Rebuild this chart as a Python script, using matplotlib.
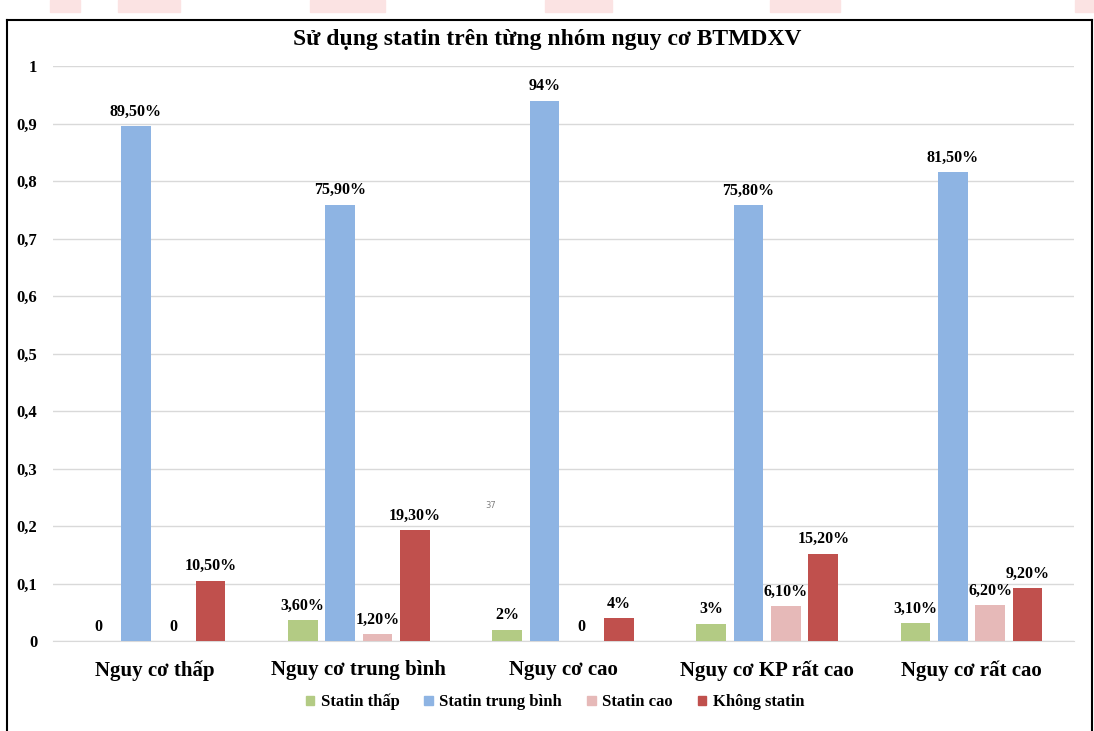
import matplotlib
matplotlib.use("Agg")
import matplotlib.pyplot as plt
import numpy as np
from matplotlib.patches import Rectangle, Patch
from matplotlib.lines import Line2D

categories = ["Nguy cơ thấp", "Nguy cơ trung bình", "Nguy cơ cao", "Nguy cơ KP rất cao", "Nguy cơ rất cao"]
series_names = ["Statin thấp", "Statin trung bình", "Statin cao", "Không statin"]
statin_thap = [0, 0.036, 0.02, 0.03, 0.031]
statin_tb = [0.895, 0.759, 0.94, 0.758, 0.815]
statin_cao = [0, 0.012, 0, 0.061, 0.062]
khong_statin = [0.105, 0.193, 0.04, 0.152, 0.092]
labels_thap = ["0", "3,60%", "2%", "3%", "3,10%"]
labels_tb = ["89,50%", "75,90%", "94%", "75,80%", "81,50%"]
labels_cao = ["0", "1,20%", "0", "6,10%", "6,20%"]
labels_khong = ["10,50%", "19,30%", "4%", "15,20%", "9,20%"]
yticks = [0, 0.1, 0.2, 0.3, 0.4, 0.5, 0.6, 0.7, 0.8, 0.9, 1]
ytick_labels = ["0", "0,1", "0,2", "0,3", "0,4", "0,5", "0,6", "0,7", "0,8", "0,9", "1"]

colors = ["#B3CB84", "#8EB4E3", "#E6B9B8", "#C0504D"]
FONT = "Liberation Serif"

plt.rcParams["font.family"] = [FONT, "DejaVu Serif"]
plt.rcParams["font.weight"] = "bold"

fig = plt.figure(figsize=(10.94, 7.31), dpi=100)
W, H = 1094, 731

# screenshot artifacts (pink marks at top) and frame
for x0, x1 in [(50, 80), (118, 180), (310, 385), (545, 612), (770, 840), (1075, 1094)]:
    fig.patches.append(Rectangle((x0 / W, 1 - 12 / H), (x1 - x0) / W, 12 / H,
                                 transform=fig.transFigure, color="#FBE3E3", zorder=0))
fig.add_artist(Line2D([7 / W, 7 / W], [0, 1 - 20 / H], color="black", lw=1.5, transform=fig.transFigure))
fig.add_artist(Line2D([7 / W, 1092 / W], [1 - 20 / H, 1 - 20 / H], color="black", lw=1.5, transform=fig.transFigure))
fig.add_artist(Line2D([1092 / W, 1092 / W], [0, 1 - 20 / H], color="black", lw=1.5, transform=fig.transFigure))

ax = fig.add_axes([52.5 / W, 90 / H, 1021 / W, 575 / H])
x = np.arange(len(categories))
step = 0.183
width = 0.145
all_vals = [statin_thap, statin_tb, statin_cao, khong_statin]
all_labels = [labels_thap, labels_tb, labels_cao, labels_khong]
for k, (vals, labs) in enumerate(zip(all_vals, all_labels)):
    pos = x + (k - 1.5) * step
    ax.bar(pos, vals, width=width, color=colors[k], zorder=3, label=series_names[k])
    for p, v, t in zip(pos, vals, labs):
        ax.text(p, v + 0.011, t, ha="center", va="bottom", fontsize=11.5,
                fontweight="bold", family=FONT, zorder=4)

ax.set_xlim(-0.5, 4.5)
ax.set_ylim(0, 1)
ax.set_yticks(yticks)
ax.set_yticklabels(ytick_labels, fontsize=12, fontweight="bold", family=FONT)
ax.set_xticks(x)
ax.set_xticklabels(categories, fontsize=15, fontweight="bold", family=FONT)
ax.tick_params(axis="both", length=0)
ax.tick_params(axis="y", pad=11)
ax.tick_params(axis="x", pad=14)
ax.grid(axis="y", color="#D9D9D9", lw=1, zorder=0)
for s in ["top", "right", "left"]:
    ax.spines[s].set_visible(False)
ax.spines["bottom"].set_color("#D9D9D9")

fig.text(0.5, 1 - 40 / H, "Sử dụng statin trên từng nhóm nguy cơ BTMDXV", ha="center", va="center",
         fontsize=17, fontweight="bold", family=FONT)

fig.text(491 / W, 1 - 505 / H, "37", fontsize=6, color="#808080", ha="center", va="center",
         family="DejaVu Sans", fontweight="normal")

handles = [Patch(color=c) for c in colors]
fig.legend(handles, series_names, loc="center", bbox_to_anchor=(555 / W, 1 - 702 / H), ncol=4,
           frameon=False, prop={"family": FONT, "weight": "bold", "size": 12},
           handlelength=0.5, handleheight=0.5, handletextpad=0.4, columnspacing=1.5)

fig.savefig("out.png", dpi=100)
